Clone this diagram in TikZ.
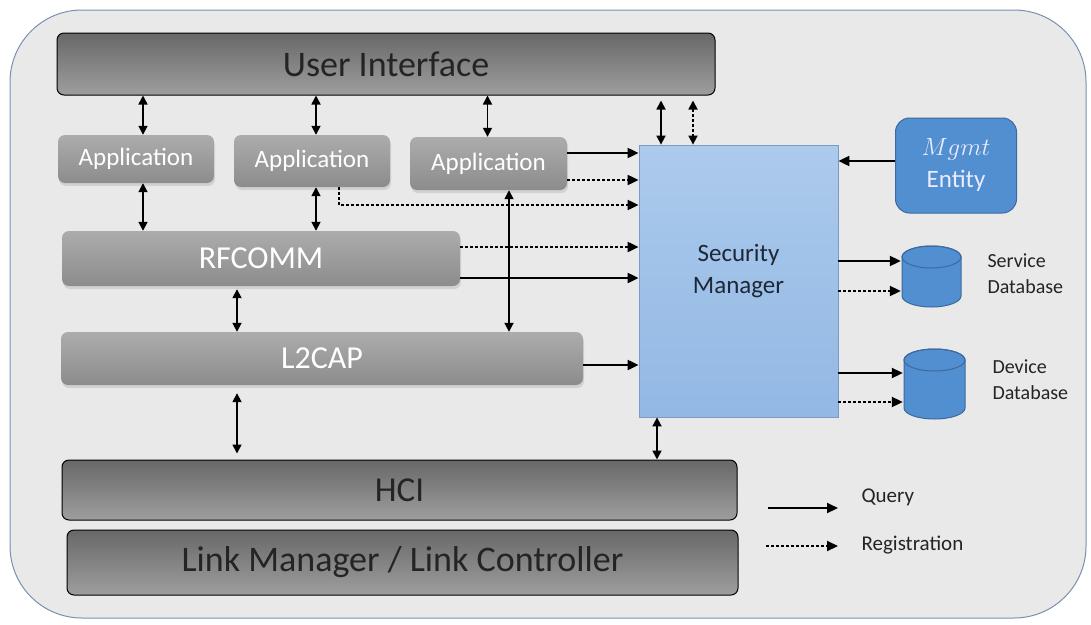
\documentclass[tikz,border=0pt]{standalone}
\usepackage{fontspec}
\setmainfont{Carlito}
\usetikzlibrary{arrows.meta,calc,shadows}

\definecolor{panelgray}{RGB}{233,233,234}
\definecolor{panelline}{RGB}{120,145,175}
\definecolor{darktop}{RGB}{104,104,104}
\definecolor{darkbot}{RGB}{158,158,158}
\definecolor{lighttop}{RGB}{172,172,172}
\definecolor{lightbot}{RGB}{140,140,140}
\definecolor{smtop}{RGB}{172,202,236}
\definecolor{smbot}{RGB}{146,184,228}
\definecolor{smline}{RGB}{120,155,200}
\definecolor{mgmtblue}{RGB}{82,143,208}
\definecolor{mgmtline}{RGB}{60,105,160}
\definecolor{txtdark}{RGB}{36,36,36}
\definecolor{smtext}{RGB}{30,40,55}

\tikzset{
  layerbox/.style={draw=black, line width=1pt, rounded corners=7pt, top color=darktop, bottom color=darkbot, text=txtdark, inner sep=0pt},
  protobox/.style={rounded corners=7pt, top color=lighttop, bottom color=lightbot, text=white, inner sep=0pt,
    drop shadow={opacity=0.22, shadow xshift=1pt, shadow yshift=-3pt}},
  % cylinder drawn inside a plain box, #1 = half width
  dbcyl/.style={inner sep=0pt, fill=panelgray, path picture={
      \coordinate (pa) at (path picture bounding box.north west);
      \coordinate (pb) at (path picture bounding box.south east);
      \filldraw [fill=mgmtblue, draw=mgmtline, line width=1pt]
        ($(pa)+(1pt,-12pt)$) -- ($(pa |- pb)+(1pt,12pt)$)
        arc [start angle=180, end angle=360, x radius=#1, y radius=11pt]
        -- ($(pa -| pb)+(-1pt,-12pt)$)
        arc [start angle=0, end angle=180, x radius=#1, y radius=11pt] -- cycle;
      \draw [mgmtline, line width=1pt] ($(pa)!0.5!(pa -| pb)+(0pt,-12pt)$) ellipse [x radius=#1, y radius=11pt];
  }},
  dbtext/.style={anchor=west, align=left, text=txtdark, font=\fontsize{20}{26}\selectfont},
  qarrow/.style={-{Triangle[length=11pt,width=10pt]}, black, line width=2pt},
  regarrow/.style={-{Triangle[length=11pt,width=10pt]}, black, line width=2pt, dash pattern=on 2.5pt off 2.5pt},
  bothway/.style={{Triangle[length=9pt,width=9pt]}-{Triangle[length=9pt,width=9pt]}, black, line width=1.7pt},
  bothreg/.style={bothway, dash pattern=on 2.5pt off 2.5pt}
}

\begin{document}
\begin{tikzpicture}[x=1pt,y=-1pt]
    \useasboundingbox (0,0) rectangle (1091,624);
    % panel behind everything
    \draw [panelline, line width=1pt, fill=panelgray, rounded corners=72pt] (10,10) rectangle (1086,618);

    \node [layerbox, minimum width=658pt, minimum height=62pt, font=\fontsize{36}{40}\selectfont] (ui) at (386,64) {User Interface};
    \node [protobox, minimum width=156pt, minimum height=48pt, font=\fontsize{25}{28}\selectfont] (app1) at (136,159) {Application};
    \node [protobox, minimum width=156pt, minimum height=52pt, font=\fontsize{25}{28}\selectfont] (app2) at (312,161) {Application};
    \node [protobox, minimum width=157pt, minimum height=53pt, font=\fontsize{25}{28}\selectfont] (app3) at (488.5,163.5) {Application};
    \node [protobox, minimum width=398pt, minimum height=55pt, font=\fontsize{32}{36}\selectfont] (rfcomm) at (261,258.5) {RFCOMM};
    \node [protobox, minimum width=522pt, minimum height=53pt, font=\fontsize{32}{36}\selectfont] (l2cap) at (322,358.5) {L2CAP};
    \node [layerbox, minimum width=675pt, minimum height=60pt, font=\fontsize{35}{40}\selectfont] (hci) at (399.5,490) {HCI};
    \node [layerbox, minimum width=671pt, minimum height=65pt, font=\fontsize{36}{40}\selectfont] (lm) at (402.5,562.5) {Link Manager / Link Controller};

    \node [draw=smline, line width=0.8pt, top color=smtop, bottom color=smbot, minimum width=199pt, minimum height=272pt,
      label={[yshift=10pt, align=center, text=smtext, font=\fontsize{25}{32}\selectfont]center:Security\\Manager}] (sm) at (738.5,281) {};
    \node [draw=mgmtline, line width=1pt, fill=mgmtblue, rounded corners=14pt, minimum width=121pt, minimum height=95pt,
      align=center, text=white!92!blue, font=\fontsize{25}{32}\selectfont] (mgmt) at (956,165.5) {$Mgmt$\\Entity};

    \node [dbcyl=29.5pt, minimum width=61pt, minimum height=63pt] (sdb) at (931.5,276.5) {};
    \node [dbcyl=30.5pt, minimum width=63pt, minimum height=72pt] (ddb) at (934.5,384) {};
    \node [dbtext] (sdbtext) at (984,274) {Service\\Database};
    \node [dbtext] (ddbtext) at (989,380) {Device\\Database};

    \node [anchor=west, text=txtdark, font=\fontsize{21}{26}\selectfont] (qtext) at (858,497) {Query};
    \node [anchor=west, text=txtdark, font=\fontsize{21}{26}\selectfont] (rtext) at (858,545) {Registration};
    \coordinate (qa) at (768,508);
    \coordinate (ra) at (766,546);

    % stack links
    \draw [bothway] ([xshift=7pt]app1.north |- ui.south) -- ([xshift=7pt]app1.north);
    \draw [bothway] ([xshift=4pt]app2.north |- ui.south) -- ([xshift=4pt]app2.north);
    \draw [bothway] ([xshift=-1pt]app3.north |- ui.south) -- ([xshift=-1pt]app3.north);
    \draw [bothway] ([xshift=7pt]app1.south) -- ([xshift=7pt]app1.south |- rfcomm.north);
    \draw [bothway] ([xshift=4pt]app2.south) -- ([xshift=4pt]app2.south |- rfcomm.north);
    \draw [bothway] ([yshift=-3pt]rfcomm.south -| 237,0) -- (l2cap.north -| 237,0);
    \draw [bothway] ([yshift=-8pt]l2cap.south -| 237,0) -- ([yshift=6pt]hci.north -| 237,0);
    \draw [bothway] (app3.south -| 509,0) -- (l2cap.north -| 509,0);

    % security manager links
    \draw [bothway] ([yshift=-5pt]ui.south -| 661,0) -- (sm.north -| 661,0);
    \draw [bothreg] ([yshift=-5pt]ui.south -| 693,0) -- (sm.north -| 693,0);
    \draw [bothway] (sm.south -| 657,0) -- (hci.north -| 657,0);
    \draw [qarrow] (app3.east |- 0,153) -- (sm.west |- 0,153);
    \draw [regarrow] (app3.east |- 0,180) -- (sm.west |- 0,180);
    \draw [regarrow] ([xshift=27pt]app2.south) |- (sm.west |- 0,205);
    \draw [regarrow] (rfcomm.east |- 0,247) -- (sm.west |- 0,247);
    \draw [qarrow] (rfcomm.east |- 0,278) -- (sm.west |- 0,278);
    \draw [qarrow] (l2cap.east |- 0,365) -- (sm.west |- 0,365);
    \draw [qarrow] (mgmt.west |- 0,161) -- (sm.east |- 0,161);
    \draw [qarrow] (sm.east |- 0,261) -- (sdb.west |- 0,261);
    \draw [regarrow] (sm.east |- 0,291) -- (sdb.west |- 0,291);
    \draw [qarrow] (sm.east |- 0,373) -- (ddb.west |- 0,373);
    \draw [regarrow] (sm.east |- 0,402) -- (ddb.west |- 0,402);

    % legend
    \draw [qarrow] (qa) -- ([xshift=-20pt]qtext.west |- qa);
    \draw [regarrow] (ra) -- ([xshift=-20pt]rtext.west |- ra);
  \end{tikzpicture}
\end{document}
